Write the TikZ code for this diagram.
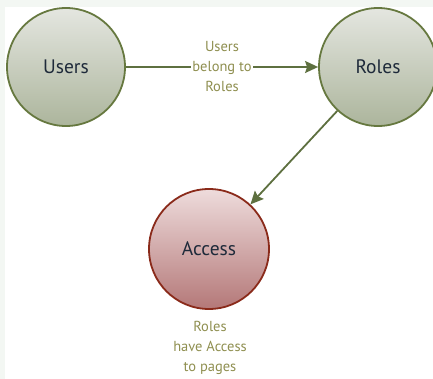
\documentclass[tikz,border=0pt]{standalone}
\usepackage{fontspec}
\setmainfont{PT Sans}
\usetikzlibrary{arrows.meta,shadings}
\definecolor{linegreen}{HTML}{5E7040}
\definecolor{greenborder}{HTML}{66783F}
\definecolor{gtop}{HTML}{E4E6E0}
\definecolor{gbot}{HTML}{ACB59C}
\definecolor{rtop}{HTML}{EEDCDC}
\definecolor{rbot}{HTML}{B47878}
\definecolor{redborder}{HTML}{8A2A1A}
\definecolor{labelcol}{HTML}{8F8F50}
\definecolor{namecol}{HTML}{1E2A3A}
\definecolor{bgstrip}{HTML}{F3F7F3}
\begin{document}
\begin{tikzpicture}[x=1pt,y=-1pt,
  greennode/.style={circle,minimum size=118pt,inner sep=0pt,draw=greenborder,line width=1.8pt,
    top color=gtop,bottom color=gbot,text=namecol,font=\fontsize{19.5}{22}\selectfont},
  rednode/.style={circle,minimum size=120pt,inner sep=0pt,draw=redborder,line width=1.8pt,
    top color=rtop,bottom color=rbot,text=namecol,font=\fontsize{19.5}{22}\selectfont},
  conn/.style={draw=linegreen,line width=1.8pt,-{Stealth[length=13pt,width=12pt,inset=2pt]}},
  lbl/.style={text=labelcol,font=\fontsize{14.5}{20}\selectfont,align=center}]
\useasboundingbox (0,0) rectangle (433,379);
\fill[bgstrip] (0,0) rectangle (433,7);
\fill[bgstrip] (0,0) rectangle (5,379);
\begin{scope}
\clip (0,0) rectangle (433,379);
\node[greennode] (users) at (66,67) {Users};
\node[greennode] (roles) at (378,67) {Roles};
\node[rednode] (access) at (209,249) {Access};
\end{scope}
\draw[conn] (users) -- node[lbl,fill=white,inner sep=1pt] (l1) {Users\\belong to\\Roles} (roles);
\draw[conn] (roles) -- (access);
\node[lbl] (l2) at (210,348) {Roles\\have Access\\to pages};
\end{tikzpicture}
\end{document}
